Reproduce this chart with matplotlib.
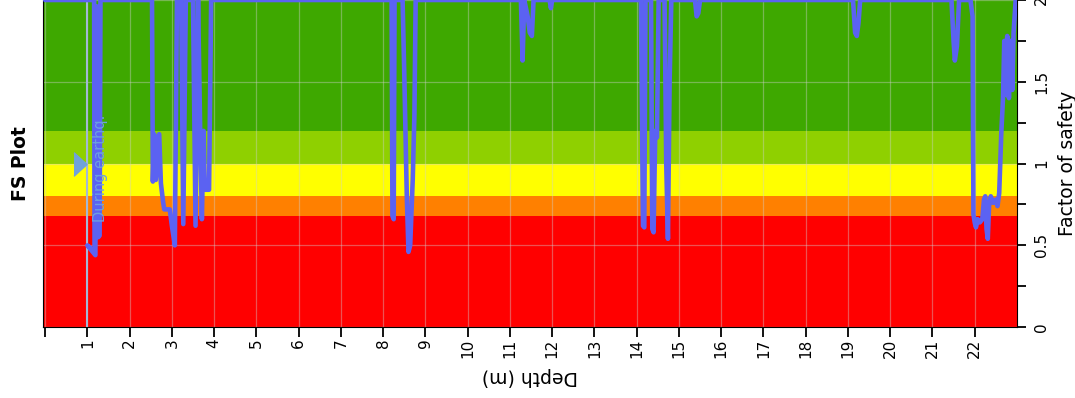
import matplotlib.pyplot as plt
from matplotlib.ticker import MultipleLocator

# FS profile (depth in m, factor of safety capped at 2)
depth_m = [
    0.00, 1.16, 1.17, 1.00, 1.19, 1.21, 1.24, 1.26, 1.29, 1.31,
    2.53, 2.55, 2.58, 2.62, 2.70, 2.74, 2.79, 2.82, 2.95, 3.00, 3.07, 3.12,
    3.22, 3.27, 3.33, 3.50, 3.56, 3.62, 3.67, 3.71, 3.75, 3.78, 3.88, 3.93,
    8.20, 8.22, 8.25, 8.27, 8.46, 8.50, 8.56, 8.60, 8.64, 8.70, 8.74, 8.77,
    11.26, 11.30, 11.34, 11.42, 11.47, 11.52, 11.56, 11.94, 11.97, 12.00,
    14.10, 14.15, 14.18, 14.21, 14.34, 14.37, 14.40, 14.44, 14.48, 14.52,
    14.66, 14.70, 14.74, 14.78, 14.82,
    15.38, 15.42, 15.46, 15.50,
    19.12, 19.17, 19.21, 19.25, 19.29,
    21.45, 21.50, 21.53, 21.58, 21.63,
    21.90, 21.95, 21.97, 22.00, 22.03, 22.07, 22.12, 22.18, 22.22, 22.25,
    22.28, 22.31, 22.34, 22.38, 22.44, 22.50, 22.54, 22.58, 22.63, 22.67,
    22.70, 22.73, 22.77, 22.81, 22.85, 22.89, 22.92, 22.97,
]
fs = [
    2.00, 2.00, 0.46, 0.50, 0.44, 1.96, 1.96, 0.55, 0.56, 2.00,
    2.00, 0.89, 1.18, 0.90, 1.18, 0.88, 0.77, 0.72, 0.72, 0.62, 0.50, 2.00,
    2.00, 0.63, 2.00, 2.00, 0.62, 2.00, 1.20, 0.66, 1.20, 0.84, 0.84, 2.00,
    2.00, 0.68, 0.66, 2.00, 2.00, 1.55, 0.80, 0.46, 0.50, 0.90, 1.30, 2.00,
    2.00, 1.63, 2.00, 1.90, 1.80, 1.78, 2.00, 2.00, 1.95, 2.00,
    2.00, 0.62, 0.61, 2.00, 2.00, 0.60, 0.58, 1.20, 1.16, 2.00,
    2.00, 1.00, 0.54, 1.50, 2.00,
    2.00, 1.90, 1.92, 2.00,
    2.00, 1.80, 1.78, 1.86, 2.00,
    2.00, 1.75, 1.63, 1.72, 2.00,
    2.00, 1.90, 0.69, 0.64, 0.61, 0.66, 0.64, 0.66, 0.78, 0.80,
    0.60, 0.54, 0.74, 0.80, 0.76, 0.78, 0.74, 0.82, 1.19, 1.40,
    1.75, 1.42, 1.78, 1.40, 1.75, 1.45, 1.80, 2.00,
]

# safety bands
band_edges = [0.0, 0.68, 0.8, 1.0, 1.2, 2.0]
band_colors = ["#ff0000", "#ff8000", "#ffff00", "#8fd000", "#3ea800"]

water_depth = 1.0
water_label = "During earthq."

depth_ticks = list(range(0, 23))
depth_labels = [""] + [str(i) for i in range(1, 23)]
fs_ticks = [0, 0.5, 1, 1.5, 2]
fs_labels = ["0", "0.5", "1", "1.5", "2"]


def main():
    fig = plt.figure(figsize=(10.75, 3.98), dpi=100)
    ax = fig.add_axes([0.040, 0.178, 0.906, 0.822])

    for lo, hi, c in zip(band_edges[:-1], band_edges[1:], band_colors):
        ax.axhspan(lo, hi, color=c, lw=0, zorder=1)

    ax.grid(True, color="#d0d0d0", lw=0.9, alpha=0.4)
    ax.set_axisbelow("line")

    ax.plot(depth_m, fs, color="#5b62f2", lw=3.3, solid_joinstyle="round",
            solid_capstyle="round", zorder=3)

    ax.axvline(water_depth, color="#a3b8d6", lw=1.5, zorder=2.8)
    tri = [(-0.55, 1), (0.55, 0), (-0.55, -1)]
    ax.plot([water_depth - 0.18], [1.0], marker=tri, ms=17, color="#6fa2dc",
            zorder=4)
    ax.text(water_depth + 0.30, 0.64, water_label, rotation=90, ha="center",
            va="bottom", fontsize=10.5, color="#6d9fe0", zorder=4)

    ax.set_xlim(-0.05, 23)
    ax.set_ylim(0, 2)
    ax.set_xticks(depth_ticks)
    ax.set_xticklabels(depth_labels, rotation=90)
    ax.set_yticks(fs_ticks)
    ax.set_yticklabels(fs_labels, rotation=90, va="center")
    ax.yaxis.set_minor_locator(MultipleLocator(0.25))
    ax.yaxis.tick_right()
    ax.yaxis.set_label_position("right")
    ax.tick_params(axis="x", length=7, width=1.3, pad=1, labelsize=11)
    ax.tick_params(axis="y", which="both", length=6.5, width=1.3, pad=6,
                   labelsize=11)

    ax.set_xlabel("Depth (m)", fontsize=13.5, rotation=180, labelpad=7)
    ax.set_ylabel("Factor of safety", fontsize=13.5, labelpad=6)
    ax.spines["top"].set_visible(False)

    fig.text(20 / 1075, 1 - 163.5 / 398, "FS Plot", rotation=90, ha="center",
             va="center", fontsize=13.5, fontweight="bold")

    fig.savefig("out.png", dpi=100)


if __name__ == "__main__":
    main()
